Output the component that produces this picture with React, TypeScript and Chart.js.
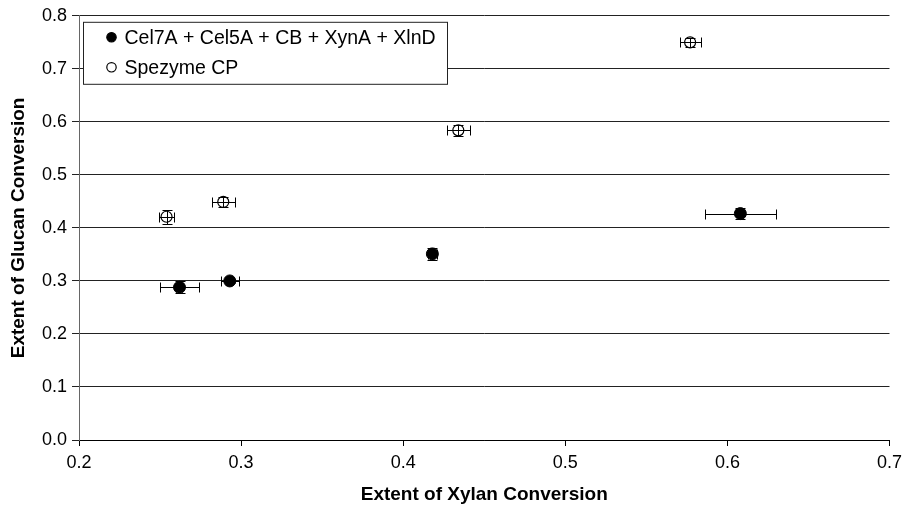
import React, { useEffect, useRef } from "react";
import { Chart, registerables } from "chart.js";

Chart.register(...registerables);

// ---- data ----
const seriesNames = ["Cel7A + Cel5A + CB + XynA + XlnD", "Spezyme CP"];

const mixXylan = [0.262, 0.293, 0.418, 0.608];
const mixGlucan = [0.288, 0.3, 0.351, 0.427];
const mixXylanErr = [0.012, 0.0056, 0.003, 0.022];
const mixGlucanErr = [0.011, 0.004, 0.012, 0.011];

const cpXylan = [0.254, 0.289, 0.434, 0.577];
const cpGlucan = [0.421, 0.449, 0.584, 0.75];
const cpXylanErr = [0.0046, 0.007, 0.007, 0.0065];
const cpGlucanErr = [0.013, 0.009, 0.011, 0.009];

const xTicks = [0.2, 0.3, 0.4, 0.5, 0.6, 0.7];
const yTicks = [0.0, 0.1, 0.2, 0.3, 0.4, 0.5, 0.6, 0.7, 0.8];

const xTitle = "Extent of Xylan Conversion";
const yTitle = "Extent of Glucan Conversion";

const FONT = '"Liberation Sans", Arial, Helvetica, sans-serif';

function buildPoints(xs: number[], ys: number[], xe: number[], ye: number[]) {
  return xs.map((x, i) => ({ x, y: ys[i], xErr: xe[i], yErr: ye[i] }));
}

const errorBarPlugin = {
  id: "errorBars",
  afterDatasetsDraw(chart: any) {
    const { ctx } = chart;
    const xs = chart.scales.x;
    const ys = chart.scales.y;
    const cap = 5;
    ctx.save();
    ctx.strokeStyle = "#000";
    ctx.lineWidth = 1;
    chart.data.datasets.forEach((ds: any) => {
      ds.data.forEach((p: any) => {
        const px = Math.round(xs.getPixelForValue(p.x)) + 0.5;
        const py = Math.round(ys.getPixelForValue(p.y)) + 0.5;
        const x0 = Math.round(xs.getPixelForValue(p.x - p.xErr)) + 0.5;
        const x1 = Math.round(xs.getPixelForValue(p.x + p.xErr)) + 0.5;
        const y0 = Math.round(ys.getPixelForValue(p.y - p.yErr)) + 0.5;
        const y1 = Math.round(ys.getPixelForValue(p.y + p.yErr)) + 0.5;
        ctx.beginPath();
        ctx.moveTo(x0, py);
        ctx.lineTo(x1, py);
        ctx.moveTo(x0, py - cap);
        ctx.lineTo(x0, py + cap);
        ctx.moveTo(x1, py - cap);
        ctx.lineTo(x1, py + cap);
        ctx.moveTo(px, y0);
        ctx.lineTo(px, y1);
        ctx.moveTo(px - cap, y0);
        ctx.lineTo(px + cap, y0);
        ctx.moveTo(px - cap, y1);
        ctx.lineTo(px + cap, y1);
        ctx.stroke();
      });
    });
    ctx.restore();
  },
};

const boxLegendPlugin = {
  id: "boxLegend",
  afterDraw(chart: any) {
    const { ctx, chartArea } = chart;
    const left = chartArea.left + 4.5;
    const top = chartArea.top + 6.5;
    const w = 364;
    const h = 62;
    ctx.save();
    ctx.fillStyle = "#fff";
    ctx.fillRect(left, top, w, h);
    ctx.strokeStyle = "#222";
    ctx.lineWidth = 1;
    ctx.strokeRect(left, top, w, h);
    chart.data.datasets.forEach((ds: any, i: number) => {
      const cy = top + 15 + i * 30;
      const cx = left + 28;
      ctx.beginPath();
      ctx.arc(cx, cy, 4.7, 0, Math.PI * 2);
      ctx.fillStyle = ds.pointBackgroundColor;
      ctx.fill();
      ctx.strokeStyle = "#000";
      ctx.lineWidth = 1.2;
      ctx.stroke();
      ctx.fillStyle = "#000";
      ctx.font = `19.5px ${FONT}`;
      ctx.textBaseline = "middle";
      ctx.textAlign = "left";
      ctx.fillText(ds.label, left + 41, cy + 1);
    });
    ctx.restore();
  },
};

export default function App() {
  const canvasRef = useRef<HTMLCanvasElement | null>(null);

  useEffect(() => {
    if (!canvasRef.current) return;
    Chart.defaults.font.family = FONT;
    const chart = new Chart(canvasRef.current, {
      type: "scatter",
      data: {
        datasets: [
          {
            label: seriesNames[0],
            data: buildPoints(mixXylan, mixGlucan, mixXylanErr, mixGlucanErr) as any,
            pointBackgroundColor: "#000",
            pointBorderColor: "#000",
            pointRadius: 6,
            pointBorderWidth: 1,
            showLine: false,
          },
          {
            label: seriesNames[1],
            data: buildPoints(cpXylan, cpGlucan, cpXylanErr, cpGlucanErr) as any,
            pointBackgroundColor: "#fff",
            pointBorderColor: "#000",
            pointRadius: 5.5,
            pointBorderWidth: 1.2,
            showLine: false,
          },
        ],
      },
      options: {
        animation: false,
        responsive: false,
        events: [],
        layout: { padding: { top: 14, right: 18, bottom: 0, left: 0 } },
        plugins: {
          legend: { display: false },
          tooltip: { enabled: false },
        },
        scales: {
          x: {
            type: "linear",
            min: xTicks[0],
            max: xTicks[xTicks.length - 1],
            afterFit: (s: any) => {
              s.height = 71;
            },
            ticks: {
              stepSize: 0.1,
              color: "#000",
              padding: 6,
              font: { size: 18 },
              callback: (v: any) => Number(v).toFixed(1),
            },
            grid: {
              drawOnChartArea: false,
              drawTicks: true,
              tickLength: 6,
              color: "#000",
            },
            border: { display: true, color: "#000", width: 1 },
            title: {
              display: true,
              text: xTitle,
              color: "#000",
              font: { size: 19, weight: "bold" },
              padding: { top: 0, bottom: 5 },
            },
          },
          y: {
            type: "linear",
            min: yTicks[0],
            max: yTicks[yTicks.length - 1],
            afterFit: (s: any) => {
              s.width = 79;
            },
            ticks: {
              stepSize: 0.1,
              color: "#000",
              padding: 5,
              font: { size: 18 },
              callback: (v: any) => Number(v).toFixed(1),
            },
            grid: {
              drawOnChartArea: true,
              drawTicks: true,
              tickLength: 7,
              color: "#222",
            },
            border: { display: true, color: "#666", width: 1 },
            title: {
              display: true,
              text: yTitle,
              color: "#000",
              font: { size: 19, weight: "bold" },
              padding: { top: 7, bottom: 0 },
            },
          },
        },
      },
      plugins: [errorBarPlugin, boxLegendPlugin],
    });
    return () => chart.destroy();
  }, []);

  return (
    <div style={{ position: "absolute", left: 0, top: 0, width: 908, height: 511, background: "#fff" }}>
      <canvas ref={canvasRef} width={908} height={511} />
    </div>
  );
}
